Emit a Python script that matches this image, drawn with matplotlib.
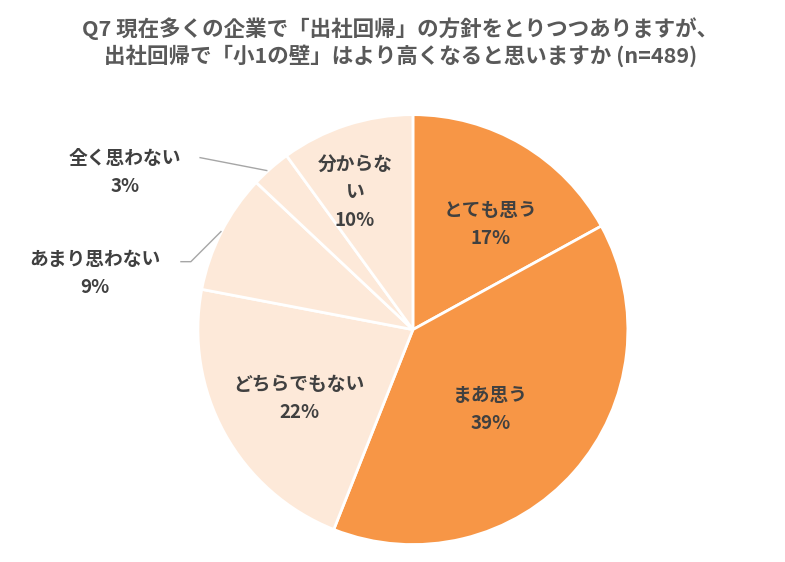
import matplotlib
matplotlib.use('Agg')
import matplotlib.pyplot as plt

labels = ['とても思う', 'まあ思う', 'どちらでもない', 'あまり思わない', '全く思わない', '分からな\nい']
values = [17, 39, 22, 9, 3, 10]
colors = ['#F79646', '#F79646', '#FDE9D9', '#FDE9D9', '#FDE9D9', '#FDE9D9']

plt.rcParams['font.family'] = 'Noto Sans CJK JP'
txt = '#404040'

fig = plt.figure(figsize=(7.85, 5.62), dpi=100)
fig.text(0.51, 0.97, 'Q7 現在多くの企業で「出社回帰」の方針をとりつつありますが、\n出社回帰で「小1の壁」はより高くなると思いますか (n=489)',
         ha='center', va='top', fontsize=15.5, fontweight='bold', color='#595959', linespacing=1.25)

ax = fig.add_axes([0.252, 0.031, 0.548, 0.765])
ax.pie(values, colors=colors, startangle=90, counterclock=False,
       wedgeprops=dict(edgecolor='white', linewidth=2))
ax.set_aspect('equal')
ax.set_xlim(-1, 1)
ax.set_ylim(-1, 1)

# label positions (data coords, radius 1)
pos = [(0.36, 0.49), (0.36, -0.37), (-0.53, -0.32), (-1.48, 0.26), (-1.34, 0.73), (-0.27, 0.64)]
for lab, v, (x, y) in zip(labels, values, pos):
    ax.text(x, y, f'{lab}\n{v}%', ha='center', va='center', fontsize=13.5,
            fontweight='bold', color=txt, linespacing=1.6, clip_on=False)

ax.plot([-1.079, -1.033, -0.893], [0.316, 0.316, 0.456], color='#A6A6A6', lw=1, clip_on=False)
ax.plot([-0.99, -0.68], [0.80, 0.74], color='#A6A6A6', lw=1, clip_on=False)

fig.savefig('out.png', dpi=100)
